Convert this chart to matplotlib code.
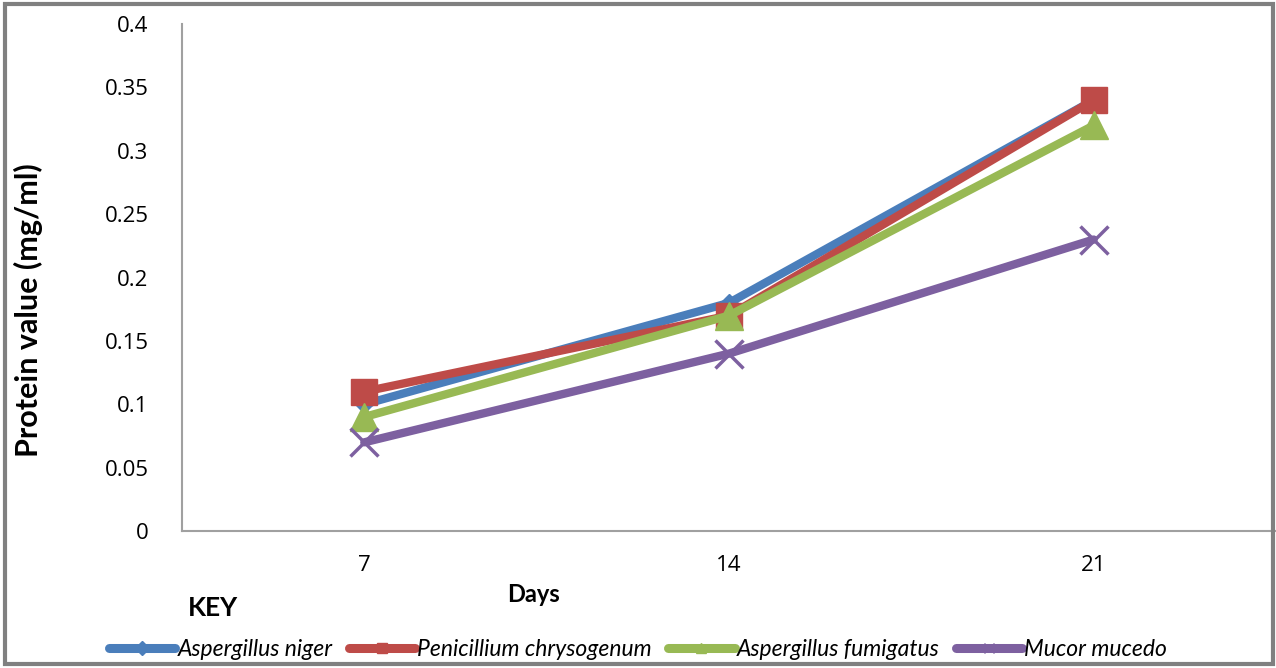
import matplotlib
matplotlib.use('Agg')
import matplotlib.pyplot as plt
from matplotlib.patches import Rectangle

days = ['7', '14', '21']
niger = [0.10, 0.18, 0.34]
chrysogenum = [0.11, 0.17, 0.34]
fumigatus = [0.09, 0.17, 0.32]
mucedo = [0.07, 0.14, 0.23]
y_ticks = [0, 0.05, 0.1, 0.15, 0.2, 0.25, 0.3, 0.35, 0.4]
y_tick_labels = ['0', '0.05', '0.1', '0.15', '0.2', '0.25', '0.3', '0.35', '0.4']

series = [
    ('Aspergillus niger', niger, '#4A7EBB', 'D', 9),
    ('Penicillium chrysogenum', chrysogenum, '#BE4B48', 's', 19),
    ('Aspergillus fumigatus', fumigatus, '#98B954', '^', 20),
    ('Mucor mucedo', mucedo, '#7D60A0', 'x', 20),
]

fig = plt.figure(figsize=(12.76, 6.68), dpi=100)
ax = fig.add_axes([0.1426, 0.205, 0.8574, 0.759])

xs = list(range(len(days)))
handles = []
for name, vals, color, marker, ms in series:
    ax.plot(xs, vals, color=color, lw=6, marker=marker, markersize=ms,
            markeredgewidth=2.5 if marker == 'x' else 1, markeredgecolor=color,
            solid_capstyle='round', zorder=3)
    # smaller markers for the key
    h, = ax.plot([], [], color=color, lw=6.5, marker=marker, markersize=7,
                 markeredgecolor=color, solid_capstyle='round')
    handles.append((h, name))

ax.set_xlim(-0.5, 2.5)
ax.set_ylim(0, 0.4)
ax.set_xticks(xs)
ax.set_xticklabels(days, fontsize=16, family='Open Sans')
ax.set_yticks(y_ticks)
ax.set_yticklabels(y_tick_labels, fontsize=16, family='Open Sans')
ax.tick_params(axis='y', length=0, pad=24)
ax.tick_params(axis='x', length=0, pad=17)
for s in ['top', 'right']:
    ax.spines[s].set_visible(False)
for s in ['left', 'bottom']:
    ax.spines[s].set_color('#A0A0A0')
    ax.spines[s].set_linewidth(1.5)

fig.text(0.022, 0.535, 'Protein value (mg/ml)', rotation=90, ha='center', va='center',
         fontsize=22, fontweight='bold', family='Lato')
fig.text(0.418, 0.110, 'Days', ha='center', va='center',
         fontsize=17, fontweight='bold', family='Lato')
fig.text(0.147, 0.090, 'KEY', ha='left', va='center',
         fontsize=19, fontweight='bold', family='Lato')

fig.legend([h for h, n in handles], [n for h, n in handles], loc='center',
           bbox_to_anchor=(0.50, 0.027), ncol=4, frameon=False,
           prop={'family': 'Lato', 'style': 'italic', 'size': 16.5},
           handlelength=2.9, columnspacing=0.7, handletextpad=0.1)

fig.patches.append(Rectangle((0.004, 0.006), 0.994, 0.988, transform=fig.transFigure,
                             fill=False, edgecolor='#808080', lw=3))

fig.savefig('out.png', dpi=100)
